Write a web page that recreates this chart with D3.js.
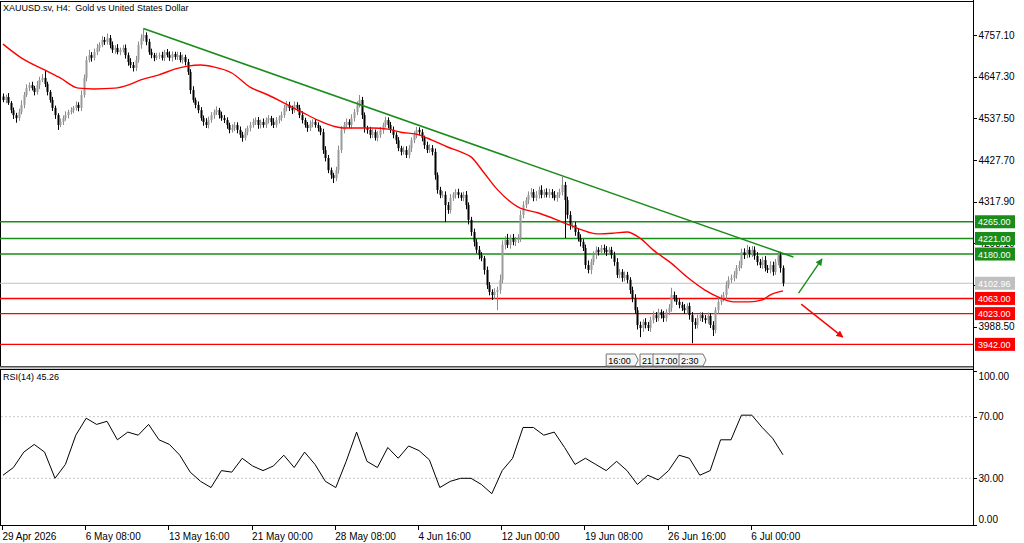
<!DOCTYPE html>
<meta charset="utf-8">
<style>
    body { margin: 0; background: #fff; }
    svg { font: 9px "Liberation Sans", Arial, sans-serif; }
    text { fill: #000; }
    .axis path, .axis line { stroke: #000; shape-rendering: crispEdges; }
    .grid70 { stroke: #c8c8c8; stroke-dasharray: 2,2; }
</style>
<body>
<script src="https://d3js.org/d3.v7.min.js"></script>
<script>

    var title = "XAUUSD.sv, H4:  Gold vs United States Dollar";
    var firstOpen = 4595;

    // H4 closes, one per bar
    var closes = [
        4586,4594,4578,4559,4546,4538,4554,4573,4599,4617,
        4625,4617,4607,4625,4639,4644,4628,4607,4586,4565,
        4546,4520,4528,4538,4546,4554,4559,4565,4573,4565,
        4599,4644,4691,4704,4697,4712,4723,4731,4744,4739,
        4749,4731,4718,4723,4712,4718,4723,4704,4686,4678,
        4670,4691,4731,4749,4757,4739,4712,4704,4697,4702,
        4704,4697,4712,4704,4697,4707,4699,4704,4691,4699,
        4686,4660,4612,4586,4573,4559,4538,4528,4520,4533,
        4546,4554,4559,4546,4538,4533,4520,4507,4512,4520,
        4507,4494,4486,4501,4512,4520,4528,4533,4520,4528,
        4520,4533,4538,4528,4520,4533,4538,4546,4565,4573,
        4565,4559,4573,4565,4546,4533,4520,4512,4523,4528,
        4520,4512,4501,4454,4433,4401,4388,4380,4401,4454,
        4507,4520,4528,4520,4538,4554,4573,4586,4546,4512,
        4507,4494,4501,4486,4494,4507,4520,4533,4520,4507,
        4494,4480,4459,4449,4454,4441,4459,4480,4494,4507,
        4501,4486,4467,4454,4459,4449,4388,4349,4336,4336,
        4309,4296,4328,4336,4343,4336,4328,4336,4309,4270,
        4238,4212,4191,4177,4169,4138,4098,4080,4072,4080,
        4085,4112,4204,4217,4204,4222,4212,4217,4222,4283,
        4309,4322,4336,4343,4328,4336,4349,4336,4343,4336,
        4343,4336,4328,4336,4343,4362,4322,4283,4256,4256,
        4238,4222,4212,4196,4151,4138,4159,4177,4191,4185,
        4196,4191,4185,4191,4177,4159,4125,4133,4117,4125,
        4112,4085,4064,4032,3993,3985,4001,3993,3985,4006,
        4019,4011,4027,4019,4011,4027,4038,4072,4064,4054,
        4046,4038,4032,4043,4019,4001,3993,4011,4019,4011,
        4006,4017,3993,3980,4032,4054,4064,4072,4098,4112,
        4117,4125,4143,4151,4185,4177,4191,4180,4191,4175,
        4159,4151,4164,4143,4138,4151,4133,4159,4177,4143,4102.96
    ];

    // wick lengths above / below the body, in dollars
    var wickUp = ("8 6 10 5 7 6 9 12 8 10 7 9 6 11 8 10 21 6 5 8 6 5 9 7 10 6 8 5 9 7 " +
        "12 9 10 14 8 9 11 7 10 8 12 8 9 7 10 6 8 9 7 10 8 11 9 10 17 7 8 9 6 8 " +
        "7 9 6 8 10 7 6 9 8 7 6 8 7 10 6 9 8 7 10 9 8 7 10 6 9 8 7 6 10 8 " +
        "7 9 8 10 6 8 9 7 8 6 9 7 8 6 10 8 7 9 8 10 8 6 9 7 8 10 6 8 9 7 " +
        "8 7 6 9 10 8 7 6 9 12 10 8 9 7 10 8 9 13 8 7 6 8 9 7 10 8 6 9 7 8 " +
        "9 7 8 6 9 10 8 7 9 8 7 8 6 9 10 8 9 7 8 10 9 8 10 7 8 9 6 8 10 7 " +
        "8 9 7 10 8 6 9 8 7 10 9 14 12 10 16 9 11 8 10 12 10 8 9 11 8 10 9 12 8 10 " +
        "9 8 10 7 9 21 8 9 10 7 9 8 10 7 9 12 8 10 9 7 8 9 10 7 8 9 10 8 7 9 " +
        "8 7 9 10 8 9 7 10 8 9 10 8 9 7 11 8 10 19 9 8 9 8 10 7 9 8 10 9 8 7 " +
        "8 9 7 10 8 11 9 8 10 9 9 10 8 11 9 10 13 8 10 9 10 8 9 11 8 10 9 8 8 9 7").split(" ").map(Number);
    var wickDn = ("6 9 5 8 10 12 7 6 9 5 8 6 9 7 10 6 8 9 7 8 10 13 6 8 7 9 6 8 7 9 " +
        "8 7 9 6 10 7 8 9 6 8 7 9 8 10 6 8 7 9 10 8 9 8 7 10 8 9 7 8 9 6 " +
        "8 7 9 6 8 10 7 8 6 9 9 8 10 7 9 8 7 10 8 9 7 10 8 9 7 8 10 9 7 8 " +
        "9 8 10 7 8 9 7 8 10 9 7 8 9 10 8 7 9 8 7 9 8 10 7 9 8 9 7 10 8 9 " +
        "7 9 8 10 9 8 10 13 8 9 8 9 7 8 10 9 8 7 10 12 10 9 8 7 9 8 10 7 9 8 " +
        "9 10 8 9 7 8 9 10 8 9 8 9 10 8 7 9 12 10 9 8 45 10 9 8 10 9 8 9 11 12 " +
        "10 12 9 11 8 12 10 9 13 10 48 10 9 12 8 10 9 11 8 10 9 8 10 7 9 8 10 9 8 7 " +
        "8 9 7 10 8 9 100 10 12 9 10 9 12 8 10 9 11 8 10 9 8 9 10 8 9 10 8 9 10 9 " +
        "9 10 11 9 12 24 10 9 8 10 9 10 8 9 10 9 8 10 9 8 9 8 10 9 12 56 10 9 8 10 " +
        "9 10 8 16 9 10 8 9 10 9 8 9 10 8 9 10 8 9 8 10 9 8 10 9 8 9 10 8 9 12 8").split(" ").map(Number);

    // red moving average, read at these bars
    var maBars = [0,7,16,22,29,35,43,48,53,60,66,71,76,81,88,95,102,108,115,121,127,131,137,142,148,
                  153,160,165,171,176,180,185,190,198,206,213,218,225,229,235,240,245,250,257,263,270,
                  276,281,287,292,295,300];
    var maVals = [4733,4697,4665,4644,4617,4615,4617,4625,4639,4652,4667,4675,4678,4673,4657,4620,4599,
                  4578,4554,4533,4517,4512,4512,4512,4509,4501,4494,4480,4462,4449,4436,4394,4351,4304,
                  4288,4270,4256,4238,4233,4235,4238,4222,4191,4156,4120,4085,4064,4054,4054,4059,4072,4083];

    // RSI(14), every 4th bar
    var rsiStep = 4;
    var rsiVals = [32,37,47,52,47,30,39,58,69,65,67,55,60,58,65,55,52,45,34,28,24,35,34,43,38,35,38,45,
                   37,47,39,28,24,41,60,41,37,50,43,51,48,42,24,28,30,30,26,20,35,43,63,63,58,60,50,39,
                   43,39,35,41,35,26,32,29,35,45,43,32,35,55,55,71,71,63,56,45.26];

    var timeBars = [0,32,64,96,128,160,192,224,256,288];
    var timeLabels = ["29 Apr 2026","6 May 08:00","13 May 16:00","21 May 00:00","28 May 08:00",
                      "4 Jun 16:00","12 Jun 00:00","19 Jun 08:00","26 Jun 16:00","6 Jul 00:00"];

    var priceTicks = [3988.5, 4098.3, 4208.1, 4317.9, 4427.7, 4537.5, 4647.3, 4757.1];
    var rsiTicks = [0, 30, 70, 100];

    var levelPrices = [4265, 4221, 4180, 4102.96, 4063, 4023, 3942];
    var levelKinds  = ["res", "res", "res", "bid", "sup", "sup", "sup"];

    var trendBars = [54, 304], trendPrices = [4774, 4172];
    var arrowUp = [[306, 4077], [315, 4167]];
    var arrowDn = [[307, 4048], [323, 3961]];

    var hoverBars = [232, 245, 250, 260];
    var hoverLabels = ["16:00", "21", "17:00", "2:30"];

    var W = 1024, H = 543;
    var dim = { right: 973, mainTop: 1, mainBottom: 366, rsiTop: 369, rsiBottom: 525 };
    var colors = { res: "#1a8c1a", sup: "#ff0000", bid: "#c0c0c0" };

    var x = d3.scaleLinear().domain([0, 300]).range([3, 783]);
    var y = d3.scaleLinear().domain([3988.5, 4757.1]).range([326.7, 35]);
    var yR = d3.scaleLinear().domain([0, 100]).range([524.5, 370.5]);

    var svg = d3.select("body").append("svg")
        .attr("width", W).attr("height", H);

    var defs = svg.append("defs");
    defs.append("clipPath").attr("id", "mainClip").append("rect")
        .attr("x", 0).attr("y", dim.mainTop).attr("width", dim.right).attr("height", dim.mainBottom - dim.mainTop);
    [["arrG", "#1a8c1a"], ["arrR", "#ff0000"]].forEach(function(m) {
        defs.append("marker").attr("id", m[0])
            .attr("viewBox", "0 0 10 10").attr("refX", 9).attr("refY", 5)
            .attr("markerWidth", 5).attr("markerHeight", 5).attr("orient", "auto")
            .append("path").attr("d", "M0,0L10,5L0,10z").attr("fill", m[1]);
    });

    // frames
    svg.append("rect").attr("x", 0.5).attr("y", dim.mainTop + 0.5)
        .attr("width", dim.right).attr("height", dim.mainBottom - dim.mainTop)
        .attr("fill", "none").attr("stroke", "#000");
    svg.append("rect").attr("x", 0).attr("y", dim.mainBottom + 0.5)
        .attr("width", dim.right + 1).attr("height", 2).attr("fill", "#a0a0a0");
    svg.append("rect").attr("x", 0.5).attr("y", dim.rsiTop + 0.5)
        .attr("width", dim.right).attr("height", dim.rsiBottom - dim.rsiTop)
        .attr("fill", "none").attr("stroke", "#000");

    var main = svg.append("g").attr("clip-path", "url(#mainClip)");

    // horizontal levels
    levelPrices.forEach(function(p, k) {
        main.append("line")
            .attr("x1", 0).attr("x2", dim.right)
            .attr("y1", y(p)).attr("y2", y(p))
            .attr("stroke", colors[levelKinds[k]])
            .attr("stroke-width", levelKinds[k] == "bid" ? 1 : 1.4);
    });

    // candles
    var bars = closes.map(function(c, i) {
        var o = i == 0 ? firstOpen : closes[i - 1];
        return { i: i, o: o, c: c, h: Math.max(o, c) + wickUp[i], l: Math.min(o, c) - wickDn[i] };
    });
    var cg = main.append("g").attr("class", "candles");
    cg.selectAll("line").data(bars).enter().append("line")
        .attr("x1", function(d) { return Math.round(x(d.i)) + 0.5; })
        .attr("x2", function(d) { return Math.round(x(d.i)) + 0.5; })
        .attr("y1", function(d) { return y(d.h); })
        .attr("y2", function(d) { return y(d.l); })
        .attr("stroke", function(d) { return d.c >= d.o ? "#8c8c8c" : "#000"; })
        .attr("stroke-width", 1);
    cg.selectAll("rect").data(bars).enter().append("rect")
        .attr("x", function(d) { return Math.round(x(d.i)) - 0.5; })
        .attr("width", 2)
        .attr("y", function(d) { return y(Math.max(d.o, d.c)); })
        .attr("height", function(d) { return Math.max(1, Math.abs(y(d.o) - y(d.c))); })
        .attr("fill", function(d) { return d.c >= d.o ? "#9a9a9a" : "#000"; });

    // moving average
    main.append("path")
        .datum(maBars.map(function(b, k) { return [b, maVals[k]]; }))
        .attr("fill", "none").attr("stroke", "#ff0000").attr("stroke-width", 1.4)
        .attr("d", d3.line().x(function(d) { return x(d[0]); }).y(function(d) { return y(d[1]); })
            .curve(d3.curveMonotoneX));

    // trendline
    main.append("line")
        .attr("x1", x(trendBars[0])).attr("y1", y(trendPrices[0]))
        .attr("x2", x(trendBars[1])).attr("y2", y(trendPrices[1]))
        .attr("stroke", "#1a8c1a").attr("stroke-width", 1.6);

    // projection arrows
    [[arrowUp, "#1a8c1a", "arrG"], [arrowDn, "#ff0000", "arrR"]].forEach(function(a) {
        main.append("line")
            .attr("x1", x(a[0][0][0])).attr("y1", y(a[0][0][1]))
            .attr("x2", x(a[0][1][0])).attr("y2", y(a[0][1][1]))
            .attr("stroke", a[1]).attr("stroke-width", 1.4)
            .attr("marker-end", "url(#" + a[2] + ")");
    });

    // crosshair time boxes
    hoverLabels.forEach(function(t, k) {
        var g = svg.append("g").attr("transform", "translate(" + x(hoverBars[k]) + ",354)");
        var w = t.length * 5 + 4;
        g.append("path").attr("d", "M0,0H" + w + "L" + (w + 3) + ",6L" + w + ",12H0z")
            .attr("fill", "#f7f7f7").attr("stroke", "#777");
        g.append("text").attr("x", 2).attr("y", 9.5).text(t);
        g.append("line").attr("x1", 3).attr("x2", 3).attr("y1", 12).attr("y2", 14).attr("stroke", "#777");
    });

    // price axis (the 4098.30 label sits fully under the bid box, so only its tick shows)
    var yAxis = d3.axisRight(y).tickValues(priceTicks)
        .tickFormat(function(d) { return d == 4098.3 ? "" : d3.format(".2f")(d); })
        .tickSize(3).tickPadding(2);
    svg.append("g").attr("class", "axis")
        .attr("transform", "translate(" + (dim.right + 0.5) + ",0)")
        .call(yAxis)
        .call(function(g) { g.select(".domain").remove(); })
        .selectAll("text").attr("fill", "#000");
    svg.append("line").attr("x1", dim.right + 0.5).attr("x2", dim.right + 0.5)
        .attr("y1", 0).attr("y2", dim.rsiBottom + 0.5).attr("stroke", "#000");

    // level labels on the price axis
    levelPrices.forEach(function(p, k) {
        var g = svg.append("g").attr("transform", "translate(" + (dim.right + 2) + "," + y(p) + ")");
        g.append("rect").attr("x", 0).attr("y", -6.5).attr("width", 40).attr("height", 13)
            .attr("fill", colors[levelKinds[k]]);
        g.append("text").attr("x", 3).attr("y", 3.5).attr("fill", "#fff").style("fill", "#fff")
            .text(d3.format(".2f")(p));
    });

    // RSI panel
    [30, 70].forEach(function(v) {
        svg.append("line").attr("class", "grid70")
            .attr("x1", 1).attr("x2", dim.right).attr("y1", yR(v)).attr("y2", yR(v));
    });
    svg.append("path")
        .datum(rsiVals)
        .attr("fill", "none").attr("stroke", "#000").attr("stroke-width", 1)
        .attr("d", d3.line().x(function(d, k) { return x(k * rsiStep); }).y(function(d) { return yR(d); }));
    svg.append("text").attr("x", 3).attr("y", dim.rsiTop + 11)
        .text("RSI(14) " + rsiVals[rsiVals.length - 1].toFixed(2));

    var rAxis = d3.axisRight(yR).tickValues(rsiTicks).tickFormat(d3.format(".2f")).tickSize(3).tickPadding(2);
    var rg = svg.append("g").attr("class", "axis")
        .attr("transform", "translate(" + (dim.right + 0.5) + ",0)")
        .call(rAxis);
    rg.select(".domain").remove();
    rg.selectAll(".tick").filter(function(d) { return d == 100; }).select("text").attr("dy", "0.9em");
    rg.selectAll(".tick").filter(function(d) { return d == 0; }).select("text").attr("dy", "-0.2em");

    // time axis
    var xAxis = d3.axisBottom(x).tickValues(timeBars)
        .tickFormat(function(d, k) { return timeLabels[k]; }).tickSize(4).tickPadding(3);
    var xg = svg.append("g").attr("class", "axis")
        .attr("transform", "translate(-1," + (dim.rsiBottom + 0.5) + ")")
        .call(xAxis);
    xg.select(".domain").remove();
    xg.selectAll("text").attr("text-anchor", "start").attr("dx", 0);

    svg.append("text").attr("x", 3).attr("y", 11)
        .attr("xml:space", "preserve").style("white-space", "pre")
        .text(title);

</script>
